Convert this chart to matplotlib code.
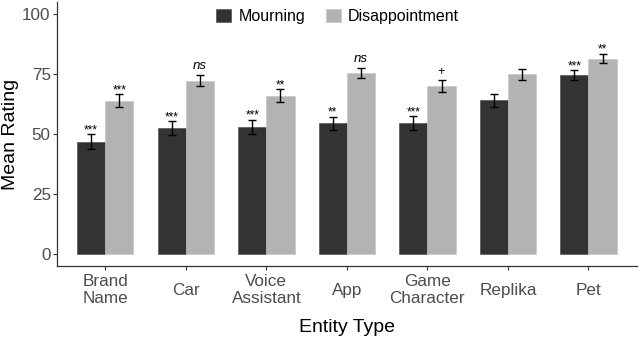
import numpy as np
import matplotlib
matplotlib.use('Agg')
import matplotlib.pyplot as plt

plt.rcParams['font.family'] = ['Liberation Sans', 'DejaVu Sans']

# ---- Data ----
entities = ['Brand\nName', 'Car', 'Voice\nAssistant', 'App', 'Game\nCharacter',
            'Replika', 'Pet']
mourning = [46.7, 52.5, 52.9, 54.4, 54.6, 64.0, 74.6]
mourning_se = [3.1, 2.8, 3.1, 2.8, 2.8, 2.6, 1.9]
disappoint = [63.8, 72.3, 66.0, 75.4, 69.9, 74.9, 81.4]
disappoint_se = [2.7, 2.3, 2.6, 2.1, 2.5, 2.2, 2.0]
mourning_sig = ['***', '***', '***', '**', '***', '', '***']
disappoint_sig = ['***', 'ns', '**', 'ns', '+', '', '**']

DARK = '#333333'
LIGHT = '#b3b3b3'
TICK_GREY = '#4d4d4d'
BAR_W = 0.35


def annotate(ax, xs, tops, labels):
    for x, top, lab in zip(xs, tops, labels):
        if not lab:
            continue
        if lab == 'ns':
            ax.text(x, top + 1.2, lab, ha='center', va='bottom',
                    fontsize=9.5, style='italic', color='black')
        elif lab == '+':
            ax.text(x, top + 1.0, lab, ha='center', va='bottom',
                    fontsize=9, color='black')
        else:
            ax.text(x, top - 0.8, lab, ha='center', va='bottom',
                    fontsize=8.5, color='black')


fig = plt.figure(figsize=(6.4, 3.41), dpi=100)
ax = fig.add_axes([0.089, 0.22, 0.906, 0.774])

x = np.arange(len(entities))
err_kw = dict(ecolor='black', elinewidth=1.0, capsize=3, capthick=1.0)
ax.bar(x - BAR_W / 2, mourning, BAR_W, yerr=mourning_se, color=DARK,
       edgecolor='#444444', linewidth=0.4, error_kw=err_kw, label='Mourning')
ax.bar(x + BAR_W / 2, disappoint, BAR_W, yerr=disappoint_se, color=LIGHT,
       edgecolor='#c4c4c4', linewidth=0.4, error_kw=err_kw,
       label='Disappointment')

annotate(ax, x - BAR_W / 2, np.add(mourning, mourning_se), mourning_sig)
annotate(ax, x + BAR_W / 2, np.add(disappoint, disappoint_se), disappoint_sig)

ax.set_xlim(-0.6, len(entities) - 0.4)
ax.set_ylim(-5, 105)
ax.set_yticks([0, 25, 50, 75, 100])
ax.set_xticks(x)
ax.set_xticklabels(entities)
for lab in ax.get_xticklabels():
    lab.set_va('center')
    lab.set_multialignment('center')
    lab.set_linespacing(1.15)

ax.tick_params(axis='both', colors='#333333', labelcolor=TICK_GREY,
               labelsize=12.3, length=3, width=0.8)
ax.tick_params(axis='x', pad=14.5)
ax.tick_params(axis='y', pad=1.5)

for side in ('top', 'right'):
    ax.spines[side].set_visible(False)
for side in ('left', 'bottom'):
    ax.spines[side].set_color('#333333')
    ax.spines[side].set_linewidth(0.9)

ax.set_xlabel('Entity Type', fontsize=14, labelpad=9)
ax.set_ylabel('Mean Rating', fontsize=14, labelpad=2)

ax.legend(loc='upper center', bbox_to_anchor=(0.484, 1.03), ncol=2,
          frameon=False, fontsize=11.5, handlelength=0.95, handleheight=0.95,
          columnspacing=1.3, handletextpad=0.45)

fig.savefig('out.png', dpi=100)
